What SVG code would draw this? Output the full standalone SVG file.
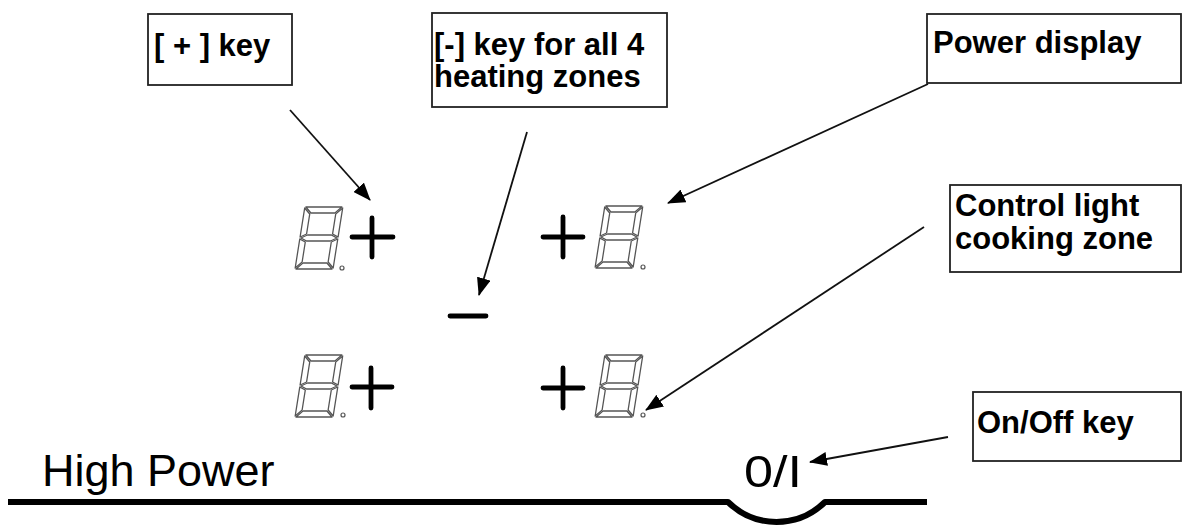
<svg xmlns="http://www.w3.org/2000/svg" xmlns:xlink="http://www.w3.org/1999/xlink" width="1193" height="529" viewBox="0 0 1193 529">
<style>
.box{fill:#fff;stroke:#222;stroke-width:1.8}
.lbl{font-family:"Liberation Sans",Arial,sans-serif;font-weight:bold;font-size:31px;fill:#000}
.big{font-family:"Liberation Sans",Arial,sans-serif;font-size:45px;fill:#000}
.conn{stroke:#111;stroke-width:1.8;fill:none}
.key{stroke:#000;stroke-width:4.8;stroke-linecap:round;fill:none}
.seg{fill:#fff;stroke:#555;stroke-width:1.3;stroke-linejoin:round}
.dot{fill:#fff;stroke:#555;stroke-width:1.2}
</style>
<defs>
<marker id="ah" markerWidth="18" markerHeight="14" refX="17" refY="7" orient="auto" markerUnits="userSpaceOnUse">
<path d="M0,0 L18,7 L0,14 Z" fill="#000"/>
</marker>
<g id="digit">
<path class="seg" d="M1,1 L37,1 L31,7 L7,7 Z"/>
<path class="seg" d="M0,2 L6,8 L6,28 L0,31 Z"/>
<path class="seg" d="M38,2 L38,31 L32,28 L32,8 Z"/>
<path class="seg" d="M1,32 L7,29 L31,29 L37,32 L31,35 L7,35 Z"/>
<path class="seg" d="M0,33 L6,36 L6,56 L0,62 Z"/>
<path class="seg" d="M38,33 L38,62 L32,56 L32,36 Z"/>
<path class="seg" d="M7,57 L31,57 L37,63 L1,63 Z"/>
</g>
</defs>
<g id="bottom-line">
<path d="M8,502 L728,502 A69,69 0 0 0 825,502 L927,502" stroke="#000" stroke-width="6" fill="none" stroke-linejoin="round"/>
</g>
<g id="high-power"><text class="big" x="42" y="486">High Power</text></g>
<g id="onoff-symbol"><text class="big" x="744" y="487" font-size="49" textLength="58" lengthAdjust="spacingAndGlyphs">0/I</text></g>
<g id="zone-top-left">
<use xlink:href="#digit" transform="translate(305,206) skewX(-9)"/>
<circle class="dot" cx="342" cy="268" r="2"/>
<path class="key" d="M352,237 H393 M372,218 V257"/>
</g>
<g id="zone-top-right">
<use xlink:href="#digit" transform="translate(605,205) skewX(-9)"/>
<circle class="dot" cx="643" cy="267" r="2"/>
<path class="key" d="M543,237 H583 M563,217 V257"/>
</g>
<g id="zone-bottom-left">
<use xlink:href="#digit" transform="translate(305,354) skewX(-9)"/>
<circle class="dot" cx="343" cy="415" r="2"/>
<path class="key" d="M352,387 H392 M371,368 V408"/>
</g>
<g id="zone-bottom-right">
<use xlink:href="#digit" transform="translate(605,354) skewX(-9)"/>
<circle class="dot" cx="643" cy="415" r="2"/>
<path class="key" d="M543,388 H583 M563,368 V408"/>
</g>
<g id="minus-key"><path class="key" d="M450,316 H486"/></g>
<g id="plus-key-label">
<rect class="box" x="148" y="14" width="144" height="71"/>
<text class="lbl" x="154" y="56">[ + ] key</text>
</g>
<g id="minus-key-label">
<rect class="box" x="432" y="13" width="235" height="94"/>
<text class="lbl" x="434" y="55">[-] key for all 4</text>
<text class="lbl" x="434" y="87">heating zones</text>
</g>
<g id="power-display-label">
<rect class="box" x="927" y="14" width="254" height="69"/>
<text class="lbl" x="933" y="53">Power display</text>
</g>
<g id="control-light-label">
<rect class="box" x="950" y="185" width="231" height="87"/>
<text class="lbl" x="955" y="216">Control light</text>
<text class="lbl" x="955" y="249">cooking zone</text>
</g>
<g id="onoff-label">
<rect class="box" x="973" y="392" width="208" height="69"/>
<text class="lbl" x="977" y="433">On/Off key</text>
</g>
<g id="connectors">
<line class="conn" x1="290" y1="110" x2="370" y2="200" marker-end="url(#ah)"/>
<line class="conn" x1="527" y1="132" x2="479" y2="295" marker-end="url(#ah)"/>
<line class="conn" x1="928" y1="84" x2="668" y2="203" marker-end="url(#ah)"/>
<line class="conn" x1="924" y1="227" x2="646" y2="410" marker-end="url(#ah)"/>
<line class="conn" x1="948" y1="437" x2="810" y2="462" marker-end="url(#ah)"/>
</g>
</svg>
